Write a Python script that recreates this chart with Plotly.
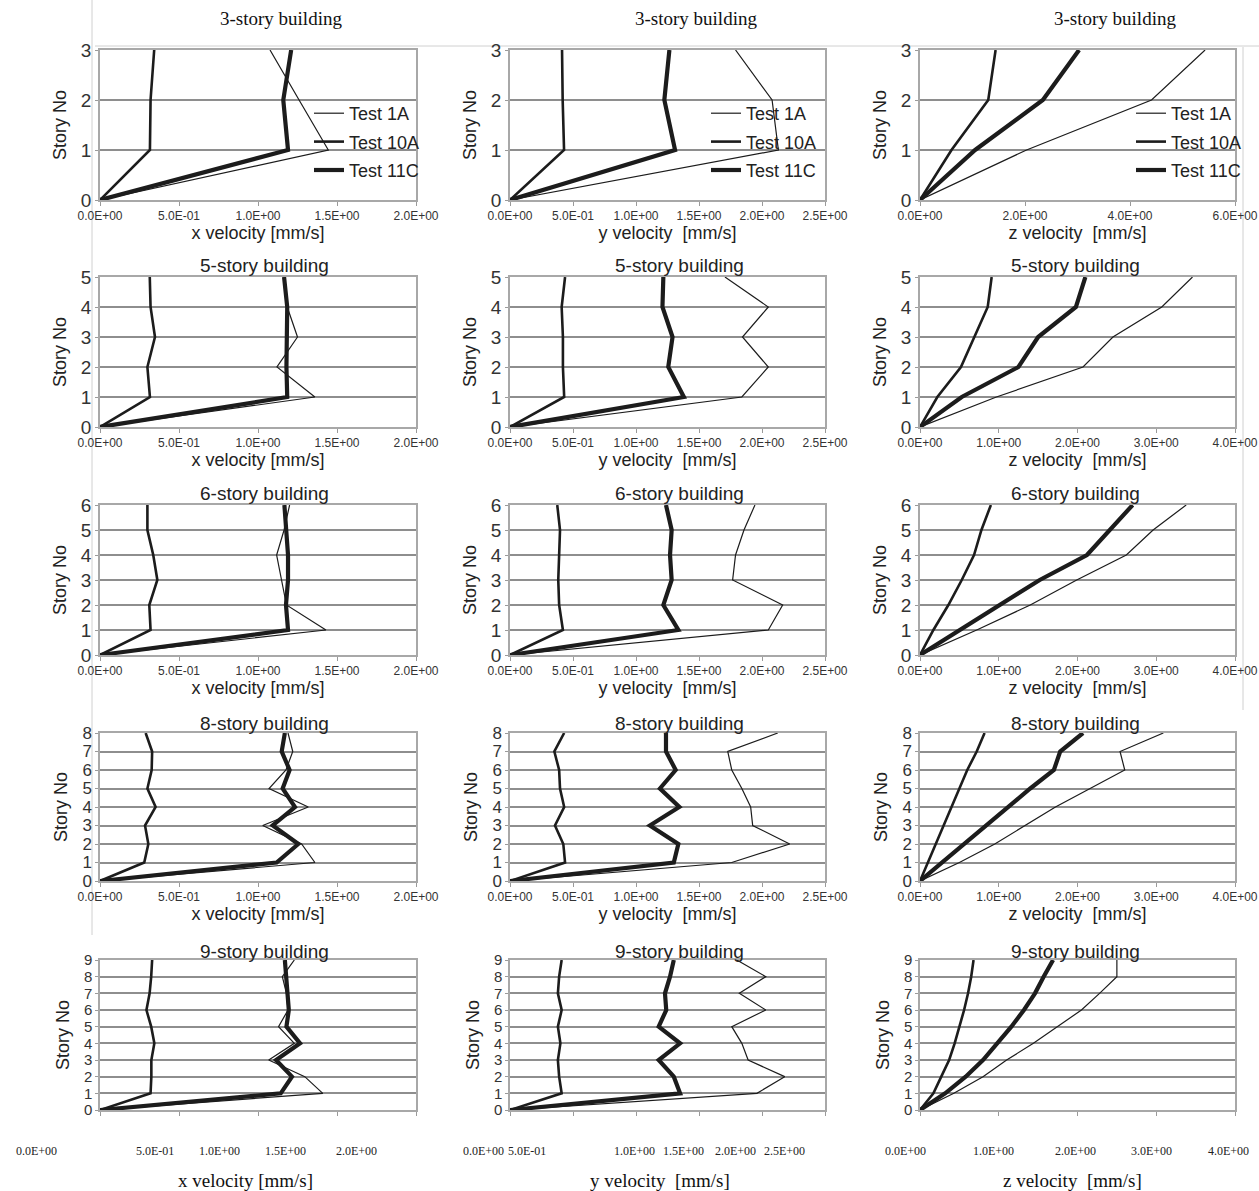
import plotly.graph_objects as go

# ---------------- data ----------------
test_names = ["Test 1A", "Test 10A", "Test 11C"]
buildings = [3, 5, 6, 8, 9]

vx3_1A = [0, 1.445, 1.26, 1.076]
vx3_10A = [0, 0.316, 0.32, 0.343]
vx3_11C = [0, 1.19, 1.16, 1.21]
vy3_1A = [0, 2.13, 2.08, 1.79]
vy3_10A = [0, 0.429, 0.418, 0.413]
vy3_11C = [0, 1.31, 1.225, 1.265]
vz3_1A = [0, 2.03, 4.41, 5.43]
vz3_10A = [0, 0.60, 1.30, 1.44]
vz3_11C = [0, 1.05, 2.34, 3.03]

vx5_1A = [0, 1.36, 1.12, 1.25, 1.185, 1.165]
vx5_10A = [0, 0.316, 0.30, 0.348, 0.32, 0.315]
vx5_11C = [0, 1.185, 1.18, 1.185, 1.185, 1.165]
vy5_1A = [0, 1.84, 2.05, 1.845, 2.05, 1.706]
vy5_10A = [0, 0.43, 0.42, 0.42, 0.41, 0.437]
vy5_11C = [0, 1.38, 1.256, 1.29, 1.21, 1.217]
vz5_1A = [0, 0.97, 2.07, 2.45, 3.07, 3.46]
vz5_10A = [0, 0.22, 0.52, 0.686, 0.86, 0.91]
vz5_11C = [0, 0.53, 1.25, 1.50, 1.98, 2.10]

vx6_1A = [0, 1.43, 1.18, 1.15, 1.118, 1.165, 1.20]
vx6_10A = [0, 0.32, 0.312, 0.363, 0.337, 0.30, 0.30]
vx6_11C = [0, 1.19, 1.177, 1.19, 1.19, 1.18, 1.167]
vy6_1A = [0, 2.05, 2.164, 1.767, 1.79, 1.857, 1.944]
vy6_10A = [0, 0.42, 0.39, 0.383, 0.39, 0.397, 0.375]
vy6_11C = [0, 1.336, 1.217, 1.283, 1.27, 1.283, 1.238]
vz6_1A = [0, 0.72, 1.40, 1.99, 2.62, 2.96, 3.38]
vz6_10A = [0, 0.17, 0.36, 0.53, 0.686, 0.78, 0.90]
vz6_11C = [0, 0.51, 1.02, 1.52, 2.12, 2.41, 2.70]

vx8_1A = [0, 1.36, 1.276, 1.03, 1.318, 1.07, 1.177, 1.22, 1.19]
vx8_10A = [0, 0.28, 0.306, 0.285, 0.352, 0.30, 0.327, 0.33, 0.289]
vx8_11C = [0, 1.118, 1.255, 1.093, 1.234, 1.156, 1.20, 1.15, 1.17]
vy8_1A = [0, 1.76, 2.22, 1.926, 1.91, 1.84, 1.76, 1.728, 2.125]
vy8_10A = [0, 0.437, 0.423, 0.357, 0.43, 0.397, 0.39, 0.352, 0.43]
vy8_11C = [0, 1.30, 1.336, 1.11, 1.344, 1.19, 1.315, 1.238, 1.238]
vz8_1A = [0, 0.50, 0.95, 1.33, 1.72, 2.16, 2.60, 2.54, 3.09]
vz8_10A = [0, 0.10, 0.20, 0.30, 0.40, 0.50, 0.60, 0.72, 0.82]
vz8_11C = [0, 0.28, 0.55, 0.82, 1.10, 1.40, 1.70, 1.78, 2.07]

vx9_1A = [0, 1.41, 1.296, 1.068, 1.23, 1.13, 1.19, 1.18, 1.154, 1.23]
vx9_10A = [0, 0.32, 0.325, 0.325, 0.344, 0.324, 0.294, 0.314, 0.324, 0.33]
vx9_11C = [0, 1.144, 1.215, 1.114, 1.266, 1.18, 1.195, 1.185, 1.18, 1.17]
vy9_1A = [0, 1.96, 2.18, 1.89, 1.84, 1.76, 2.03, 1.82, 2.03, 1.80]
vy9_10A = [0, 0.41, 0.39, 0.38, 0.40, 0.38, 0.41, 0.38, 0.39, 0.41]
vy9_11C = [0, 1.35, 1.30, 1.18, 1.35, 1.18, 1.24, 1.23, 1.27, 1.30]
vz9_1A = [0, 0.43, 0.80, 1.10, 1.44, 1.74, 2.05, 2.28, 2.50, 2.50]
vz9_10A = [0, 0.17, 0.27, 0.37, 0.44, 0.50, 0.56, 0.61, 0.65, 0.68]
vz9_11C = [0, 0.32, 0.58, 0.80, 0.98, 1.16, 1.32, 1.46, 1.57, 1.69]

series = {
    3: {"x": (vx3_1A, vx3_10A, vx3_11C), "y": (vy3_1A, vy3_10A, vy3_11C), "z": (vz3_1A, vz3_10A, vz3_11C)},
    5: {"x": (vx5_1A, vx5_10A, vx5_11C), "y": (vy5_1A, vy5_10A, vy5_11C), "z": (vz5_1A, vz5_10A, vz5_11C)},
    6: {"x": (vx6_1A, vx6_10A, vx6_11C), "y": (vy6_1A, vy6_10A, vy6_11C), "z": (vz6_1A, vz6_10A, vz6_11C)},
    8: {"x": (vx8_1A, vx8_10A, vx8_11C), "y": (vy8_1A, vy8_10A, vy8_11C), "z": (vz8_1A, vz8_10A, vz8_11C)},
    9: {"x": (vx9_1A, vx9_10A, vx9_11C), "y": (vy9_1A, vy9_10A, vy9_11C), "z": (vz9_1A, vz9_10A, vz9_11C)},
}

x_tickvals = [0, 0.5, 1.0, 1.5, 2.0]
x_ticktext = ["0.0E+00", "5.0E-01", "1.0E+00", "1.5E+00", "2.0E+00"]
y_tickvals = [0, 0.5, 1.0, 1.5, 2.0, 2.5]
y_ticktext = ["0.0E+00", "5.0E-01", "1.0E+00", "1.5E+00", "2.0E+00", "2.5E+00"]
z3_tickvals = [0, 2, 4, 6]
z3_ticktext = ["0.0E+00", "2.0E+00", "4.0E+00", "6.0E+00"]
z_tickvals = [0, 1, 2, 3, 4]
z_ticktext = ["0.0E+00", "1.0E+00", "2.0E+00", "3.0E+00", "4.0E+00"]

axis_titles = {"x": "x velocity [mm/s]", "y": "y velocity\u00a0\u00a0[mm/s]", "z": "z velocity\u00a0\u00a0[mm/s]"}

# bottom-row (pasted) tick labels and their pixel centres
bottom_labels = {
    "x": (["0.0E+00", "5.0E-01", "1.0E+00", "1.5E+00", "2.0E+00"], [36, 155, 219, 285, 356]),
    "y": (["0.0E+00", "5.0E-01", "1.0E+00", "1.5E+00", "2.0E+00", "2.5E+00"], [483, 527, 634, 684, 735, 784]),
    "z": (["0.0E+00", "1.0E+00", "2.0E+00", "3.0E+00", "4.0E+00"], [905, 993, 1075, 1151, 1228]),
}
bottom_title_x = {"x": 245, "y": 660, "z": 1072}

# ---------------- layout geometry ----------------
W, H = 1259, 1191
col_px = [(100, 416), (510, 825), (920, 1235)]
row_px = [(50, 200), (277, 427), (505, 655), (733, 881), (960, 1110)]
ytick_size = [19, 19, 19, 17, 15]
title_pos = {0: [(281, 18), (696, 18), (1115, 18)]}
title_sans_y = [None, 265, 494, 723, 951]
title_sans_x = [264, 679, 1075]
legend_px = [(309, 95), (706, 95), (1131, 95)]

widths = [1.2, 2.6, 4.2]
LINE = "#1c1c1c"
SANS = "Liberation Sans"
SERIF = "Liberation Serif"


def px(x, y):
    return x / W, 1 - y / H


fig = go.Figure()
layout = {}
annotations = []
idx = 0
for r, n in enumerate(buildings):
    stories = list(range(n + 1))
    for c, d in enumerate("xyz"):
        idx += 1
        xa = "x" if idx == 1 else f"x{idx}"
        ya = "y" if idx == 1 else f"y{idx}"
        leg = "legend" if c == 0 else f"legend{c + 1}"
        for t, name in enumerate(test_names):
            fig.add_trace(go.Scatter(
                x=series[n][d][t], y=stories, mode="lines", name=name,
                line=dict(color=LINE, width=widths[t]),
                xaxis=xa, yaxis=ya, showlegend=(r == 0), legend=leg,
                legendgroup=f"{name}-{c}",
            ))
        if d == "x":
            tv, tt, rng = x_tickvals, x_ticktext, [0, 2]
        elif d == "y":
            tv, tt, rng = y_tickvals, y_ticktext, [0, 2.5]
        else:
            if n == 3:
                tv, tt, rng = z3_tickvals, z3_ticktext, [0, 6]
            else:
                tv, tt, rng = z_tickvals, z_ticktext, [0, 4]
        x0, x1 = col_px[c]
        ytop, ybot = row_px[r]
        last = (r == len(buildings) - 1)
        xaxis = dict(
            domain=[x0 / W, x1 / W], anchor=ya, range=rng,
            tickvals=tv, ticktext=tt, showticklabels=not last,
            tickfont=dict(family=SANS, size=12, color="#333"),
            ticks="outside", ticklen=4, tickcolor="#9a9a9a",
            showgrid=False, zeroline=False, showline=True, mirror=True,
            linecolor="#a8a8a8", linewidth=1.5, fixedrange=True,
            automargin=False,
        )
        if not last:
            xaxis["title"] = dict(text=axis_titles[d], standoff=4,
                                  font=dict(family=SANS, size=18, color="#222"))
        yaxis = dict(
            domain=[1 - ybot / H, 1 - ytop / H], anchor=xa, range=[0, n],
            tickvals=stories, ticktext=[str(s) for s in stories],
            tickfont=dict(family=SANS, size=ytick_size[r], color="#333"),
            ticks="outside", ticklen=3, tickcolor="#9a9a9a",
            showgrid=True, gridcolor="#8e8e8e", gridwidth=2,
            zeroline=False, showline=True, mirror=True,
            linecolor="#a8a8a8", linewidth=1.5, fixedrange=True,
            automargin=False,
            title=dict(text="Story No", standoff=10,
                       font=dict(family=SANS, size=18, color="#222")),
        )
        layout["xaxis" if idx == 1 else f"xaxis{idx}"] = xaxis
        layout["yaxis" if idx == 1 else f"yaxis{idx}"] = yaxis

        # panel titles
        if r == 0:
            tx, ty = title_pos[0][c]
            ax_, ay_ = px(tx, ty)
            annotations.append(dict(text=f"{n}-story building", x=ax_, y=ay_, xref="paper", yref="paper",
                                    showarrow=False, xanchor="center", yanchor="middle",
                                    font=dict(family=SERIF, size=19, color="#111")))
        else:
            ax_, ay_ = px(title_sans_x[c], title_sans_y[r])
            annotations.append(dict(text=f"{n}-story building", x=ax_, y=ay_, xref="paper", yref="paper",
                                    showarrow=False, xanchor="center", yanchor="middle",
                                    font=dict(family=SANS, size=19, color="#222")))

# bottom-row pasted labels
for d in "xyz":
    labels, xs = bottom_labels[d]
    for lab, xp in zip(labels, xs):
        ax_, ay_ = px(xp, 1151)
        annotations.append(dict(text=lab, x=ax_, y=ay_, xref="paper", yref="paper", showarrow=False,
                                xanchor="center", yanchor="middle",
                                font=dict(family=SERIF, size=12, color="#222")))
    ax_, ay_ = px(bottom_title_x[d], 1180)
    annotations.append(dict(text=axis_titles[d], x=ax_, y=ay_, xref="paper", yref="paper", showarrow=False,
                            xanchor="center", yanchor="middle",
                            font=dict(family=SERIF, size=19, color="#111")))

# legends (row 1)
for c in range(3):
    lx, ly = legend_px[c]
    key = "legend" if c == 0 else f"legend{c + 1}"
    layout[key] = dict(x=lx / W, y=1 - ly / H, xanchor="left", yanchor="top",
                       bgcolor="rgba(0,0,0,0)", borderwidth=0, tracegroupgap=2,
                       font=dict(family=SANS, size=18, color="#222"),
                       itemwidth=30)

# faint scan artefact lines
shapes = []
for (xa0, ya0, xa1, ya1) in [(92, 0, 92, 935), (95, 46, 1259, 46), (1243, 47, 1243, 710)]:
    p0 = px(xa0, ya0)
    p1 = px(xa1, ya1)
    shapes.append(dict(type="line", xref="paper", yref="paper", x0=p0[0], y0=p0[1], x1=p1[0], y1=p1[1],
                       line=dict(color="#d0d0d0", width=1), layer="below"))

fig.update_layout(
    width=W, height=H, margin=dict(l=0, r=0, t=0, b=0),
    paper_bgcolor="white", plot_bgcolor="white",
    annotations=annotations, shapes=shapes, **layout,
)

fig.write_html("out.html")
